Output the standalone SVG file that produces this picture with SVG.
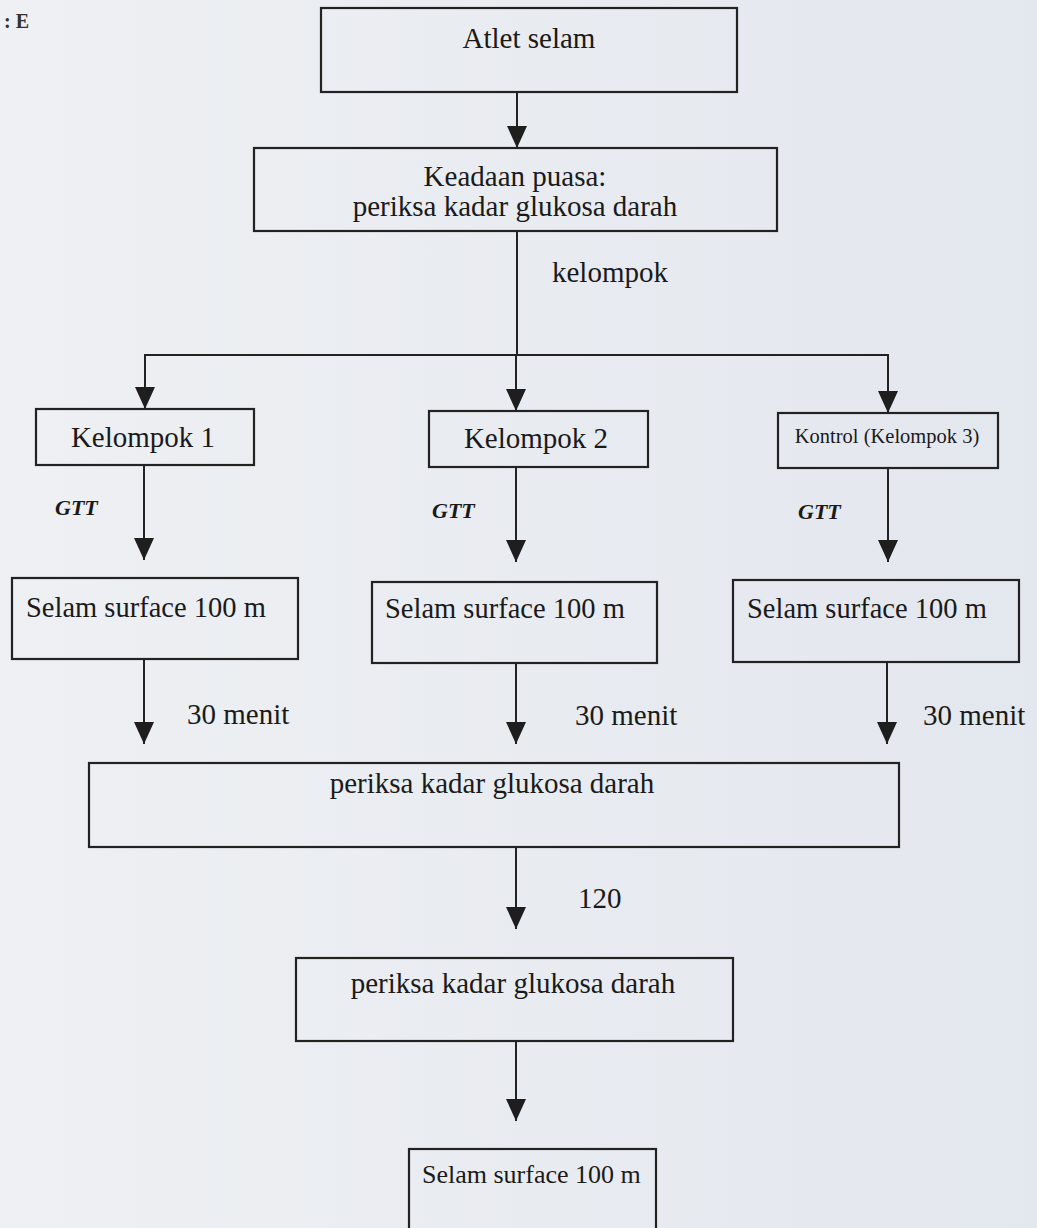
<svg xmlns="http://www.w3.org/2000/svg" width="1037" height="1228" viewBox="0 0 1037 1228" font-family="Liberation Serif, Times New Roman, serif">
<defs>
<linearGradient id="bg" x1="0" y1="0" x2="1" y2="0">
<stop offset="0" stop-color="#eef0f3"/>
<stop offset="1" stop-color="#e3e7ee"/>
</linearGradient>
<marker id="ah" viewBox="0 0 22 20" refX="22" refY="10" markerWidth="22" markerHeight="20" markerUnits="userSpaceOnUse" orient="auto">
<path d="M0,0 L22,10 L0,20 Z" fill="#1e1e1e"/>
</marker>
<style>
.box{fill:none;stroke:#222;stroke-width:2.2}
.t{fill:#1a1a1a;text-anchor:middle}
.s{fill:#1a1a1a}
.g{font-weight:bold;font-style:italic;fill:#1a1a1a}
.l{fill:#1a1a1a}
.c{fill:none;stroke:#222;stroke-width:2}
.a{fill:none;stroke:#222;stroke-width:2;marker-end:url(#ah)}
</style>
</defs>
<rect x="0" y="0" width="1037" height="1228" fill="url(#bg)"/>
<text x="4" y="28" font-size="20" font-weight="bold" fill="#333">: E</text>

<g id="connectors">
<line class="a" x1="517" y1="92" x2="517" y2="148"/>
<line class="c" x1="517" y1="231" x2="517" y2="355"/>
<line class="c" x1="144" y1="355" x2="889" y2="355"/>
<line class="a" x1="145" y1="354" x2="145" y2="409"/>
<line class="a" x1="516" y1="355" x2="516" y2="411"/>
<line class="a" x1="888" y1="354" x2="888" y2="413"/>
<line class="a" x1="144" y1="465" x2="144" y2="560"/>
<line class="a" x1="516" y1="467" x2="516" y2="562"/>
<line class="a" x1="888" y1="468" x2="888" y2="562"/>
<line class="a" x1="144" y1="659" x2="144" y2="744"/>
<line class="a" x1="516" y1="663" x2="516" y2="744"/>
<line class="a" x1="887" y1="662" x2="887" y2="744"/>
<line class="a" x1="516" y1="847" x2="516" y2="929"/>
<line class="a" x1="516" y1="1041" x2="516" y2="1121"/>
<text class="l" x="552" y="282" font-size="29">kelompok</text>
<text class="g" x="55" y="515" font-size="22">GTT</text>
<text class="g" x="432" y="518" font-size="22">GTT</text>
<text class="g" x="798" y="519" font-size="22">GTT</text>
<text class="l" x="187" y="724" font-size="29">30 menit</text>
<text class="l" x="575" y="725" font-size="29">30 menit</text>
<text class="l" x="923" y="725" font-size="29">30 menit</text>
<text class="l" x="578" y="908" font-size="29">120</text>
</g>

<g id="n-atlet">
<rect class="box" x="321" y="8" width="416" height="84"/>
<text class="t" x="529" y="48" font-size="29">Atlet selam</text>
</g>
<g id="n-puasa">
<rect class="box" x="254" y="148" width="523" height="83"/>
<text class="t" x="515" y="186" font-size="29">Keadaan puasa:</text>
<text class="t" x="515" y="216" font-size="29">periksa kadar glukosa darah</text>
</g>
<g id="n-k1">
<rect class="box" x="36" y="409" width="218" height="56"/>
<text class="t" x="143" y="447" font-size="29">Kelompok 1</text>
</g>
<g id="n-k2">
<rect class="box" x="429" y="411" width="219" height="56"/>
<text class="t" x="536" y="448" font-size="29">Kelompok 2</text>
</g>
<g id="n-k3">
<rect class="box" x="778" y="413" width="220" height="55"/>
<text class="t" x="887" y="443" font-size="20.5">Kontrol (Kelompok 3)</text>
</g>
<g id="n-s1">
<rect class="box" x="12" y="578" width="286" height="81"/>
<text class="s" x="26" y="617" font-size="28.5">Selam surface 100 m</text>
</g>
<g id="n-s2">
<rect class="box" x="372" y="582" width="285" height="81"/>
<text class="s" x="385" y="618" font-size="28.5">Selam surface 100 m</text>
</g>
<g id="n-s3">
<rect class="box" x="733" y="580" width="286" height="82"/>
<text class="s" x="747" y="618" font-size="28.5">Selam surface 100 m</text>
</g>
<g id="n-p1">
<rect class="box" x="89" y="763" width="810" height="84"/>
<text class="t" x="492" y="793" font-size="29">periksa kadar glukosa darah</text>
</g>
<g id="n-p2">
<rect class="box" x="296" y="958" width="437" height="83"/>
<text class="t" x="513" y="993" font-size="29">periksa kadar glukosa darah</text>
</g>
<g id="n-s4">
<rect class="box" x="409" y="1149" width="247" height="100"/>
<text class="s" x="422" y="1183" font-size="26">Selam surface 100 m</text>
</g>
</svg>
